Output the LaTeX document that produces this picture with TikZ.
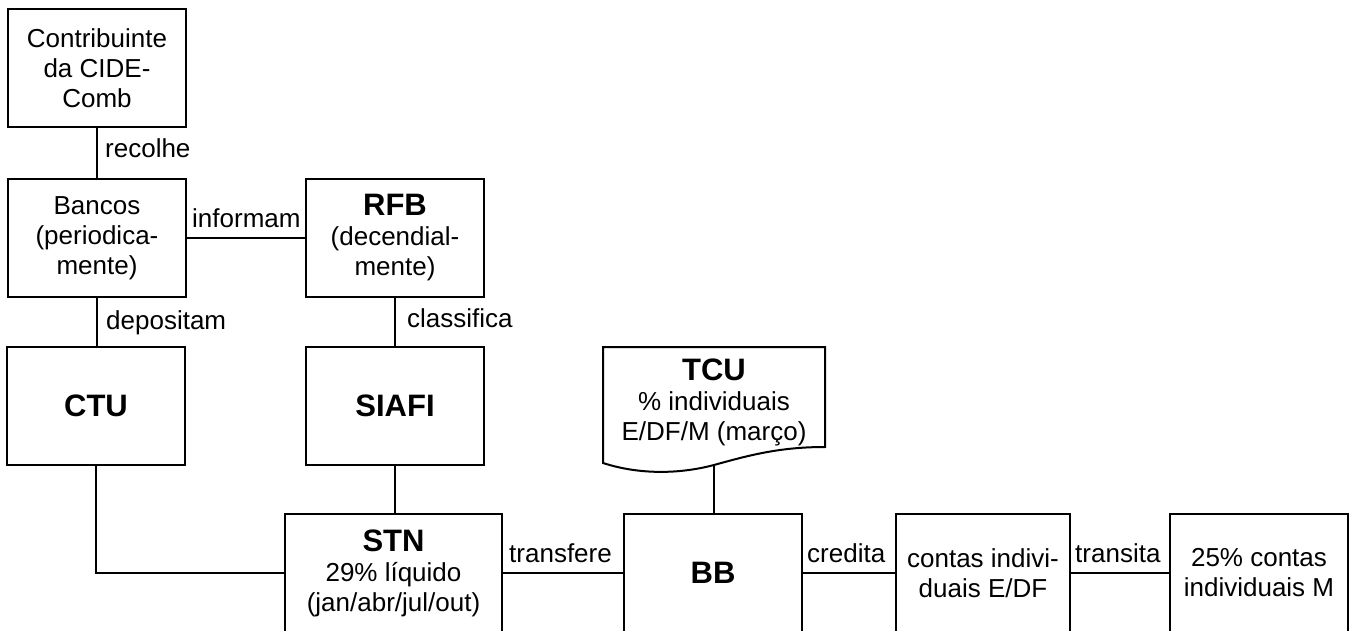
\documentclass[tikz,border=0pt]{standalone}
\usepackage{fontspec}
\setmainfont{Liberation Sans}
\begin{document}
\begin{tikzpicture}[x=1pt,y=-1pt,
  every node/.style={font=\fontsize{26}{30}\selectfont},
  box/.style={draw, line width=2pt, inner sep=0pt, align=center, minimum width=178pt, minimum height=118pt},
  lbl/.style={inner sep=0pt, anchor=base west},
  conn/.style={line width=2pt}]
\newcommand{\ttlfont}{\fontsize{31}{34}\selectfont\bfseries}
\useasboundingbox (0,0) rectangle (1352,631);
\clip (0,0) rectangle (1352,631);
\fill[white] (0,0) rectangle (1352,631);

\node[box] (contrib) at (97,68) {Contribuinte\\da CIDE-\\Comb};
\node[box] (bancos) at (97,238) {Bancos\\(periodica-\\mente)};
\node[box] (rfb) at (395,238) {{\ttlfont RFB}\\(decendial-\\mente)};
\node[box] (ctu) at (96,406) {\ttlfont CTU};
\node[box] (siafi) at (395,406) {\ttlfont SIAFI};
\node[box, minimum width=217pt] (stn) at (393.5,573) {{\ttlfont STN}\\29\% líquido\\(jan/abr/jul/out)};
\node[box] (bb) at (713,573) {\ttlfont BB};
\node[box, minimum width=174pt] (contas) at (983,573) {contas indivi-\\duais E/DF};
\node[box] (m25) at (1259,573) {25\% contas\\individuais M};

% TCU document shape
\node[inner sep=0pt, align=center] (tcu) at (714,402) {{\ttlfont TCU}\\\% individuais\\E/DF/M (março)};
\draw[line width=2pt, line join=miter] (603,347) -- (825,347) -- (825,447)
  .. controls (780,447) and (750,455) .. (714,465)
  .. controls (680,474) and (640,475) .. (603,463) -- cycle;
\coordinate (tcub) at (714,465);

% connectors
\draw[conn] (contrib.south) -- (contrib.south |- bancos.north);
\draw[conn] (bancos.east) -- (bancos.east -| rfb.west);
\draw[conn] (bancos.south) -- (bancos.south |- ctu.north);
\draw[conn] (rfb.south) -- (rfb.south |- siafi.north);
\draw[conn] (ctu.south) |- (stn.west);
\draw[conn] (siafi.south) -- (siafi.south |- stn.north);
\draw[conn] (stn.east) -- (stn.east -| bb.west);
\draw[conn] (tcub) -- (tcub |- bb.north);
\draw[conn] (bb.east) -- (bb.east -| contas.west);
\draw[conn] (contas.east) -- (contas.east -| m25.west);

% labels
\node[lbl] (l1) at (105,158) {recolhe};
\node[lbl] (l2) at (192,228) {informam};
\node[lbl] (l3) at (106,329) {depositam};
\node[lbl] (l4) at (407,327) {classifica};
\node[lbl] (l5) at (509,562) {transfere};
\node[lbl] (l6) at (807,562) {credita};
\node[lbl] (l7) at (1075,562) {transita};
\end{tikzpicture}
\end{document}
